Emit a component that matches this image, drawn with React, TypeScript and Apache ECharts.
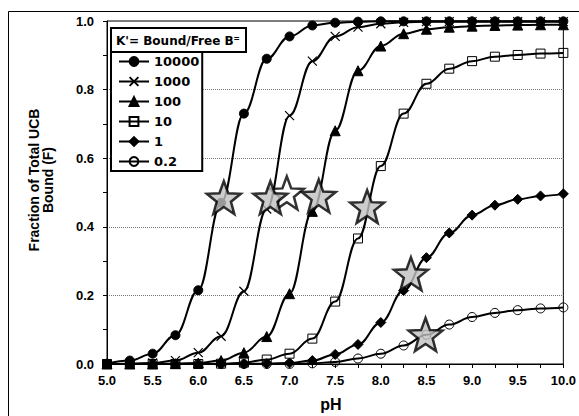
import React, { useEffect, useRef } from "react";
import * as echarts from "echarts";

// pH values of the plotted points
const phValues = [5.0, 5.25, 5.5, 5.75, 6.0, 6.25, 6.5, 6.75, 7.0, 7.25, 7.5, 7.75, 8.0, 8.25, 8.5, 8.75, 9.0, 9.25, 9.5, 9.75, 10.0];

// Legend names (K' = Bound/Free B=)
const seriesNames = ["10000", "1000", "100", "10", "1", "0.2"];

// Fraction bound for each K'
const fK10000 = [0.001, 0.01, 0.03, 0.084, 0.215, 0.47, 0.73, 0.89, 0.955, 0.987, 0.995, 0.998, 0.999, 0.999, 0.999, 0.999, 0.999, 0.999, 0.999, 0.999, 0.999];
const fK1000 = [0, 0.001, 0.003, 0.01, 0.033, 0.081, 0.212, 0.452, 0.724, 0.883, 0.955, 0.982, 0.992, 0.996, 0.998, 0.998, 0.998, 0.998, 0.998, 0.998, 0.998];
const fK100 = [0, 0, 0, 0.001, 0.003, 0.01, 0.033, 0.08, 0.205, 0.445, 0.68, 0.855, 0.927, 0.963, 0.976, 0.982, 0.985, 0.987, 0.988, 0.989, 0.989];
const fK10 = [0, 0, 0, 0, 0, 0.001, 0.004, 0.013, 0.03, 0.074, 0.182, 0.366, 0.577, 0.73, 0.817, 0.861, 0.883, 0.896, 0.901, 0.905, 0.907];
const fK1 = [0, 0, 0, 0, 0, 0, 0, 0.001, 0.003, 0.01, 0.028, 0.057, 0.121, 0.214, 0.31, 0.382, 0.434, 0.463, 0.48, 0.49, 0.496];
const fK02 = [0, 0, 0, 0, 0, 0, 0, 0, 0, 0.002, 0.006, 0.016, 0.03, 0.054, 0.085, 0.115, 0.137, 0.149, 0.157, 0.162, 0.165];

// Half-saturation stars (grey) and the open star
const starPH = [6.28, 6.79, 7.32, 7.85, 8.33, 8.49];
const starF = [0.485, 0.485, 0.49, 0.459, 0.263, 0.086];
const openStarPH = [6.97];
const openStarF = [0.499];

// Axis ticks
const xMin = 5;
const xMax = 10;
const xStep = 0.5;
const yMin = 0;
const yMax = 1;
const yStep = 0.2;

const legendTitle = "K'= Bound/Free B\u207C";
const yTitle = "Fraction of Total UCB\nBound (F)";
const xTitle = "pH";

const STAR =
  "path://M50,0 L62.34,33.01 L97.55,34.55 L69.97,56.49 L79.39,90.45 L50,71 L20.61,90.45 L30.03,56.49 L2.45,34.55 L37.66,33.01 Z";
const CROSS = "path://M0,0 L10,10 M10,0 L0,10";

const seriesValues = [fK10000, fK1000, fK100, fK10, fK1, fK02];
const markerStyles: any[] = [
  { symbol: "circle", symbolSize: 9, itemStyle: { color: "#000", borderColor: "#000", borderWidth: 1 } },
  { symbol: CROSS, symbolSize: 9, itemStyle: { color: "#000", borderColor: "#000", borderWidth: 1.2 } },
  { symbol: "triangle", symbolSize: 10, itemStyle: { color: "#000", borderColor: "#000", borderWidth: 1 } },
  { symbol: "rect", symbolSize: 9, itemStyle: { color: "rgba(255,255,255,0)", borderColor: "#000", borderWidth: 1 } },
  { symbol: "diamond", symbolSize: 10, itemStyle: { color: "#000", borderColor: "#000", borderWidth: 1 } },
  { symbol: "circle", symbolSize: 9, itemStyle: { color: "rgba(255,255,255,0)", borderColor: "#000", borderWidth: 1 } },
];

export default function App() {
  const ref = useRef<HTMLDivElement>(null);

  useEffect(() => {
    if (!ref.current) return;
    const chart = echarts.init(ref.current, null, { renderer: "svg" });

    const lineSeries = seriesNames.map((name, i) => ({
      name,
      type: "line",
      data: phValues.map((x, j) => [x, seriesValues[i][j]]),
      smooth: 0.4,
      smoothMonotone: "x",
      showAllSymbol: true,
      lineStyle: { color: "#000", width: 2 },
      z: 2,
      ...markerStyles[i],
    }));

    const option: any = {
      animation: false,
      backgroundColor: "#fff",
      grid: {
        left: 107,
        top: 21,
        width: 460,
        height: 343,
        show: true,
        borderColor: "#000",
        borderWidth: 1,
        backgroundColor: "transparent",
      },
      xAxis: {
        type: "value",
        min: xMin,
        max: xMax,
        interval: xStep,
        axisLine: { show: true, onZero: false, lineStyle: { color: "#000", width: 1 } },
        axisTick: { show: true, length: 4, lineStyle: { color: "#000" } },
        minorTick: { show: true, splitNumber: 2, length: 4, lineStyle: { color: "#000" } },
        splitLine: { show: false },
        axisLabel: {
          color: "#000",
          fontFamily: "Liberation Sans",
          fontWeight: "bold",
          fontSize: 13,
          margin: 10,
          formatter: (v: number) => v.toFixed(1),
        },
      },
      yAxis: {
        type: "value",
        min: yMin,
        max: yMax,
        interval: yStep,
        axisLine: { show: true, onZero: false, lineStyle: { color: "#000", width: 1 } },
        axisTick: { show: true, length: 4, lineStyle: { color: "#000" } },
        minorTick: { show: true, splitNumber: 2, length: 4, lineStyle: { color: "#000" } },
        splitLine: { show: true, lineStyle: { color: "#777", type: [1, 1], width: 1 } },
        axisLabel: {
          color: "#000",
          fontFamily: "Liberation Sans",
          fontWeight: "bold",
          fontSize: 13,
          margin: 13,
          formatter: (v: number) => v.toFixed(1),
        },
      },
      legend: {
        data: seriesNames,
        orient: "vertical",
        left: 111,
        top: 52,
        itemWidth: 30,
        itemHeight: 11,
        itemGap: 7,
        padding: [3, 3, 3, 7],
        backgroundColor: "#fff",
        borderColor: "#000",
        borderWidth: 2,
        selectedMode: false,
        textStyle: {
          color: "#000",
          fontFamily: "DejaVu Sans",
          fontWeight: "bold",
          fontSize: 13,
        },
      },
      graphic: [
        {
          type: "rect",
          silent: true,
          shape: { x: 8.5, y: 11.5, width: 700, height: 700 },
          style: { fill: "none", stroke: "#000", lineWidth: 1 },
          z: -10,
        },
        {
          type: "rect",
          silent: true,
          shape: { x: 111, y: 28, width: 135, height: 24 },
          style: { fill: "#fff", stroke: "#000", lineWidth: 2 },
          z: 100,
        },
        {
          type: "text",
          silent: true,
          x: 116,
          y: 40.5,
          z: 101,
          style: {
            text: legendTitle,
            fill: "#000",
            font: "bold 12px 'DejaVu Sans'",
            align: "left",
            verticalAlign: "middle",
          },
        },
        {
          type: "text",
          silent: true,
          x: 40.5,
          y: 180,
          rotation: Math.PI / 2,
          style: {
            text: yTitle,
            fill: "#000",
            font: "bold 14px 'Liberation Sans'",
            lineHeight: 14,
            align: "center",
            verticalAlign: "middle",
          },
        },
        {
          type: "text",
          silent: true,
          x: 331,
          y: 404,
          style: {
            text: xTitle,
            fill: "#000",
            font: "bold 16px 'Liberation Sans'",
            align: "center",
            verticalAlign: "middle",
          },
        },
      ],
      series: [
        ...lineSeries,
        {
          name: "stars",
          type: "scatter",
          data: starPH.map((x, i) => [x, starF[i]]),
          symbol: STAR,
          symbolSize: [34, 33],
          itemStyle: { color: "#c0c0c0", borderColor: "#000", borderWidth: 2.5 },
          z: 5,
        },
        {
          name: "openStar",
          type: "scatter",
          data: openStarPH.map((x, i) => [x, openStarF[i]]),
          symbol: STAR,
          symbolSize: [34, 33],
          itemStyle: { color: "#fff", borderColor: "#000", borderWidth: 2.5 },
          z: 4,
        },
      ],
    };

    chart.setOption(option);
    return () => {
      chart.dispose();
    };
  }, []);

  return (
    <div
      ref={ref}
      style={{ position: "fixed", left: 0, top: 0, width: 579, height: 416, background: "#fff" }}
    />
  );
}
